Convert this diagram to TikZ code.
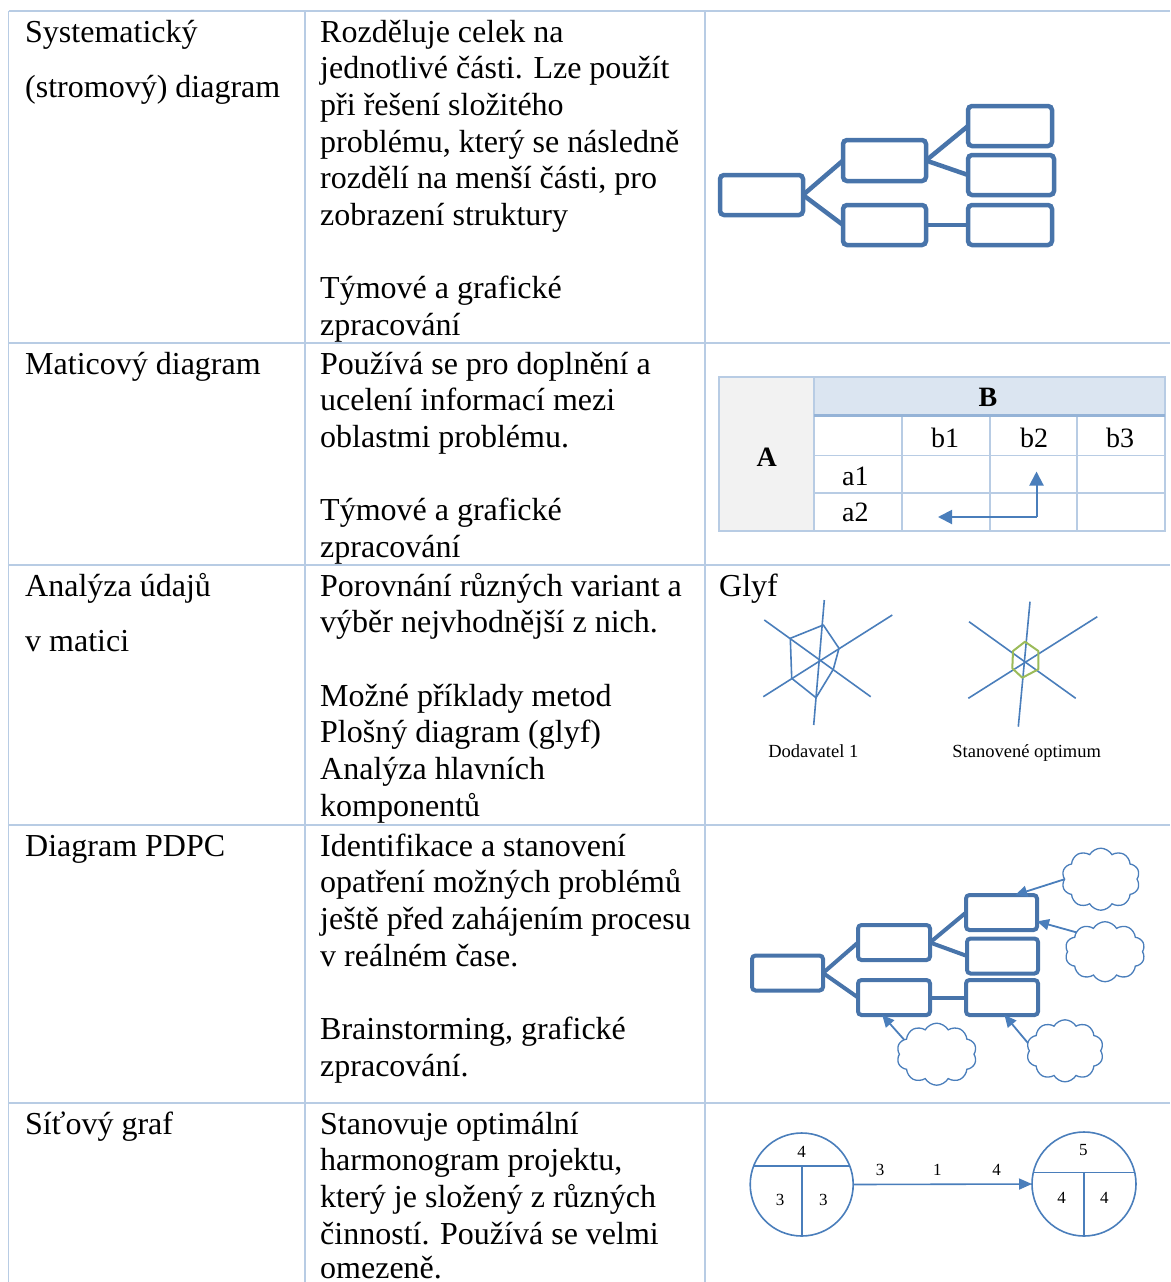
\documentclass[tikz,border=0pt]{standalone}
\usepackage{fontspec}
\setmainfont{Liberation Serif}
\usetikzlibrary{arrows.meta,shapes.symbols}

\definecolor{gridblue}{RGB}{184,204,228}
\definecolor{boxblue}{RGB}{72,116,170}
\definecolor{lineblue}{RGB}{74,126,187}
\definecolor{headfill}{RGB}{219,229,241}
\definecolor{sidefill}{RGB}{242,242,242}
\definecolor{headrule}{RGB}{149,179,215}
\definecolor{optgreen}{RGB}{155,187,89}

\tikzset{
  body/.style={anchor=base west, inner sep=0pt, font=\fontsize{32}{36.7}\selectfont},
  rule/.style={draw=gridblue, line width=1.5pt},
  treebox/.style={draw=boxblue, line width=4.5pt, rounded corners=4pt, minimum width=83pt, minimum height=40pt, inner sep=0pt, outer sep=0pt},
  treelink/.style={draw=boxblue, line width=4.5pt},
  pbox/.style={draw=boxblue, line width=4pt, rounded corners=3.5pt, minimum width=71pt, minimum height=35pt, inner sep=0pt, outer sep=0pt},
  plink/.style={draw=boxblue, line width=4pt},
  idea/.style={cloud, cloud puffs=10, cloud puff arc=120, draw=lineblue, line width=1.3pt, inner sep=0pt, outer sep=0pt},
  cause/.style={draw=lineblue, line width=1.8pt, -{Triangle[length=12pt,width=11pt]}},
  mtext/.style={anchor=base, inner sep=0pt, font=\fontsize{28}{32}\selectfont},
  axis/.style={draw=lineblue, line width=1.6pt},
  small/.style={inner sep=0pt, font=\fontsize{18.5}{21}\selectfont},
  num/.style={inner sep=0pt, font=\fontsize{17}{20}\selectfont},
  event/.style={circle, draw=lineblue, line width=1.6pt, inner sep=0pt, outer sep=0pt},
  evline/.style={draw=lineblue, line width=1.6pt},
}

\newcommand\txtline[4]{\node[body] (#1) at (#2,#3) {#4};}

\begin{document}
\begin{tikzpicture}[x=1pt,y=-1pt]
\useasboundingbox (0,0) rectangle (1170,1282);

% table rules
\draw[rule] (8.5,11) -- (1170,11);
\draw[rule] (8.5,11) -- (8.5,1282);
\draw[rule] (305,11) -- (305,1282);
\draw[rule] (705,11) -- (705,1282);
\foreach \y in {343,565,825,1103} \draw[rule] (8.5,\y) -- (1170,\y);

% first column
\txtline{l1a}{25}{42}{Systematický}
\txtline{l1b}{25}{97}{(stromový) diagram}
\txtline{l2a}{25}{374}{Maticový diagram}
\txtline{l3a}{25}{596}{Analýza údajů}
\txtline{l3b}{25}{651}{v matici}
\txtline{l4a}{25}{856}{Diagram PDPC}
\txtline{l5a}{25}{1134}{Síťový graf}

% second column
\txtline{d1a}{320}{42}{Rozděluje celek na}
\txtline{d1b}{320}{78.7}{jednotlivé části. Lze použít}
\txtline{d1c}{320}{115.4}{při řešení složitého}
\txtline{d1d}{320}{152.1}{problému, který se následně}
\txtline{d1e}{320}{188.8}{rozdělí na menší části, pro}
\txtline{d1f}{320}{225.5}{zobrazení struktury}
\txtline{d1g}{320}{298.9}{Týmové a grafické}
\txtline{d1h}{320}{335.6}{zpracování}

\txtline{d2a}{320}{374}{Používá se pro doplnění a}
\txtline{d2b}{320}{410.7}{ucelení informací mezi}
\txtline{d2c}{320}{447.4}{oblastmi problému.}
\txtline{d2d}{320}{520.8}{Týmové a grafické}
\txtline{d2e}{320}{557.5}{zpracování}

\txtline{d3a}{320}{596}{Porovnání různých variant a}
\txtline{d3b}{320}{632.7}{výběr nejvhodnější z nich.}
\txtline{d3c}{320}{706.1}{Možné příklady metod}
\txtline{d3d}{320}{742.8}{Plošný diagram (glyf)}
\txtline{d3e}{320}{779.5}{Analýza hlavních}
\txtline{d3f}{320}{816.2}{komponentů}

\txtline{d4a}{320}{856}{Identifikace a stanovení}
\txtline{d4b}{320}{892.7}{opatření možných problémů}
\txtline{d4c}{320}{929.4}{ještě před zahájením procesu}
\txtline{d4d}{320}{966.1}{v reálném čase.}
\txtline{d4e}{320}{1039.5}{Brainstorming, grafické}
\txtline{d4f}{320}{1076.2}{zpracování.}

\txtline{d5a}{320}{1134}{Stanovuje optimální}
\txtline{d5b}{320}{1170.7}{harmonogram projektu,}
\txtline{d5c}{320}{1207.4}{který je složený z různých}
\txtline{d5d}{320}{1244.1}{činností. Používá se velmi}
\txtline{d5e}{320}{1278.5}{omezeně.}

% tree diagram
\node[treebox] (tr) at (761.5,195) {};
\node[treebox, minimum height=41pt] (tm1) at (884.5,160.5) {};
\node[treebox] (tm2) at (884.5,225) {};
\node[treebox, minimum width=84pt] (tt1) at (1010,126) {};
\node[treebox, minimum width=86pt] (tt2) at (1011,175) {};
\node[treebox, minimum width=84pt] (tt3) at (1010,225) {};
\draw[treelink] (tr.east) -- (tm1.west);
\draw[treelink] (tr.east) -- (tm2.west);
\draw[treelink] (tm1.east) -- (tt1.west);
\draw[treelink] (tm1.east) -- (tt2.west);
\draw[treelink] (tm2.east) -- (tt3.west);

% matrix diagram
\fill[sidefill] (719,377) rectangle (814,531);
\fill[headfill] (814,377) rectangle (1165,415);
\draw[rule] (719,377) rectangle (1165,531);
\draw[rule] (814,377) -- (814,531);
\foreach \x in {902,990,1077} \draw[rule] (\x,415) -- (\x,531);
\foreach \y in {455.7,493} \draw[rule] (814,\y) -- (1165,\y);
\draw[draw=headrule, line width=3pt] (814,415) -- (1165,415);
\node[mtext, font=\fontsize{28}{32}\selectfont\bfseries] (mB) at (988,406.7) {B};
\node[mtext, font=\fontsize{28}{32}\selectfont\bfseries] (mA) at (766.7,466) {A};
\node[mtext] (mb1) at (945,447.7) {b1};
\node[mtext] (mb2) at (1034,447.7) {b2};
\node[mtext] (mb3) at (1120,447.7) {b3};
\node[mtext, anchor=base west] (ma1) at (842,485) {a1};
\node[mtext, anchor=base west] (ma2) at (842,521.7) {a2};
\coordinate (mturn) at (1036.5,517);
\coordinate (mup) at (1036.5,471.5);
\coordinate (mleft) at (938,517);
\draw[draw=lineblue, line width=2pt, -{Triangle[length=14pt,width=14pt]}] (mturn) -- (mup);
\draw[draw=lineblue, line width=2pt, -{Triangle[length=14pt,width=14pt]}] (mturn) -- (mleft);

% glyph plots
\node[body, anchor=base west] (gl) at (719,596) {Glyf};
\draw[axis] (824.3,600) -- (813.7,725);
\draw[axis] (764.3,620) -- (870.7,696.7);
\draw[axis] (763.3,696.7) -- (892.3,615);
\draw[axis, line join=round] (823.3,625) -- (839,648.3) -- (833.3,669.3) -- (816,697.7) -- (791.7,678.3) -- (790.3,638.3) -- cycle;
\node[small] (g1) at (813.3,751) {Dodavatel 1};

\draw[axis] (1030,601.7) -- (1018.3,726.7);
\draw[axis] (969,621.7) -- (1075.7,698.3);
\draw[axis] (968.3,698.3) -- (1097.3,616.7);
\draw[draw=optgreen, line width=2pt, line join=round] (1025,641.7) -- (1038.3,651) -- (1038.3,669.3) -- (1022.3,677.7) -- (1012.3,668.3) -- (1013,651) -- cycle;
\node[small] (g2) at (1026.7,753.5) {Stanovené optimum};

% PDPC diagram
\node[pbox] (p0) at (787.5,973) {};
\node[pbox, minimum width=72pt] (p1) at (894,942.5) {};
\node[pbox, minimum width=72pt] (p2) at (894,997.5) {};
\node[pbox] (p3) at (1001.5,912.5) {};
\node[pbox] (p4) at (1002.5,956) {};
\node[pbox, minimum width=72pt] (p5) at (1002,997.5) {};
\draw[plink] (p0.east) -- (p1.west);
\draw[plink] (p0.east) -- (p2.west);
\draw[plink] (p1.east) -- (p3.west);
\draw[plink] (p1.east) -- (p4.west);
\draw[plink] (p2.east) -- (p5.west);
\node[idea, minimum width=78pt, minimum height=62pt] (k1) at (1100.8,879.2) {};
\node[idea, minimum width=80pt, minimum height=60pt] (k2) at (1105,951.7) {};
\node[idea, minimum width=80pt, minimum height=62pt] (k3) at (936.7,1054.2) {};
\node[idea, minimum width=77pt, minimum height=62pt] (k4) at (1065,1050.8) {};
\draw[cause] (k1.west) -- (p3.52);
\draw[cause] (k2.146) -- (p3.-14);
\draw[cause] (k3.156) -- (p2.-124);
\draw[cause] (k4.168) -- (p5.-82);

% network graph
\node[event, minimum size=103pt] (e1) at (801.7,1184.5) {};
\node[event, minimum size=104pt] (e2) at (1084,1184) {};
\draw[evline] (e1.159) -- (e1.21);
\draw[evline] (e1.south) -- (e1.center |- e1.21);
\draw[evline] (e2.167) -- (e2.13);
\draw[evline] (e2.south) -- (e2.center |- e2.13);
\node[num] (e1t) at (801.7,1151.7) {4};
\node[num] (e1l) at (780,1200) {3};
\node[num] (e1r) at (823.3,1200) {3};
\node[num] (e2t) at (1083.3,1150) {5};
\node[num] (e2l) at (1061.7,1198.3) {4};
\node[num] (e2r) at (1104.3,1198.3) {4};
\draw[evline, -{Triangle[length=13pt,width=11pt]}] (e1.east) -- (e2.west);
\node[num] (w1) at (880,1170) {3};
\node[num] (w2) at (937.3,1170) {1};
\node[num] (w3) at (996.7,1170) {4};
\end{tikzpicture}
\end{document}
